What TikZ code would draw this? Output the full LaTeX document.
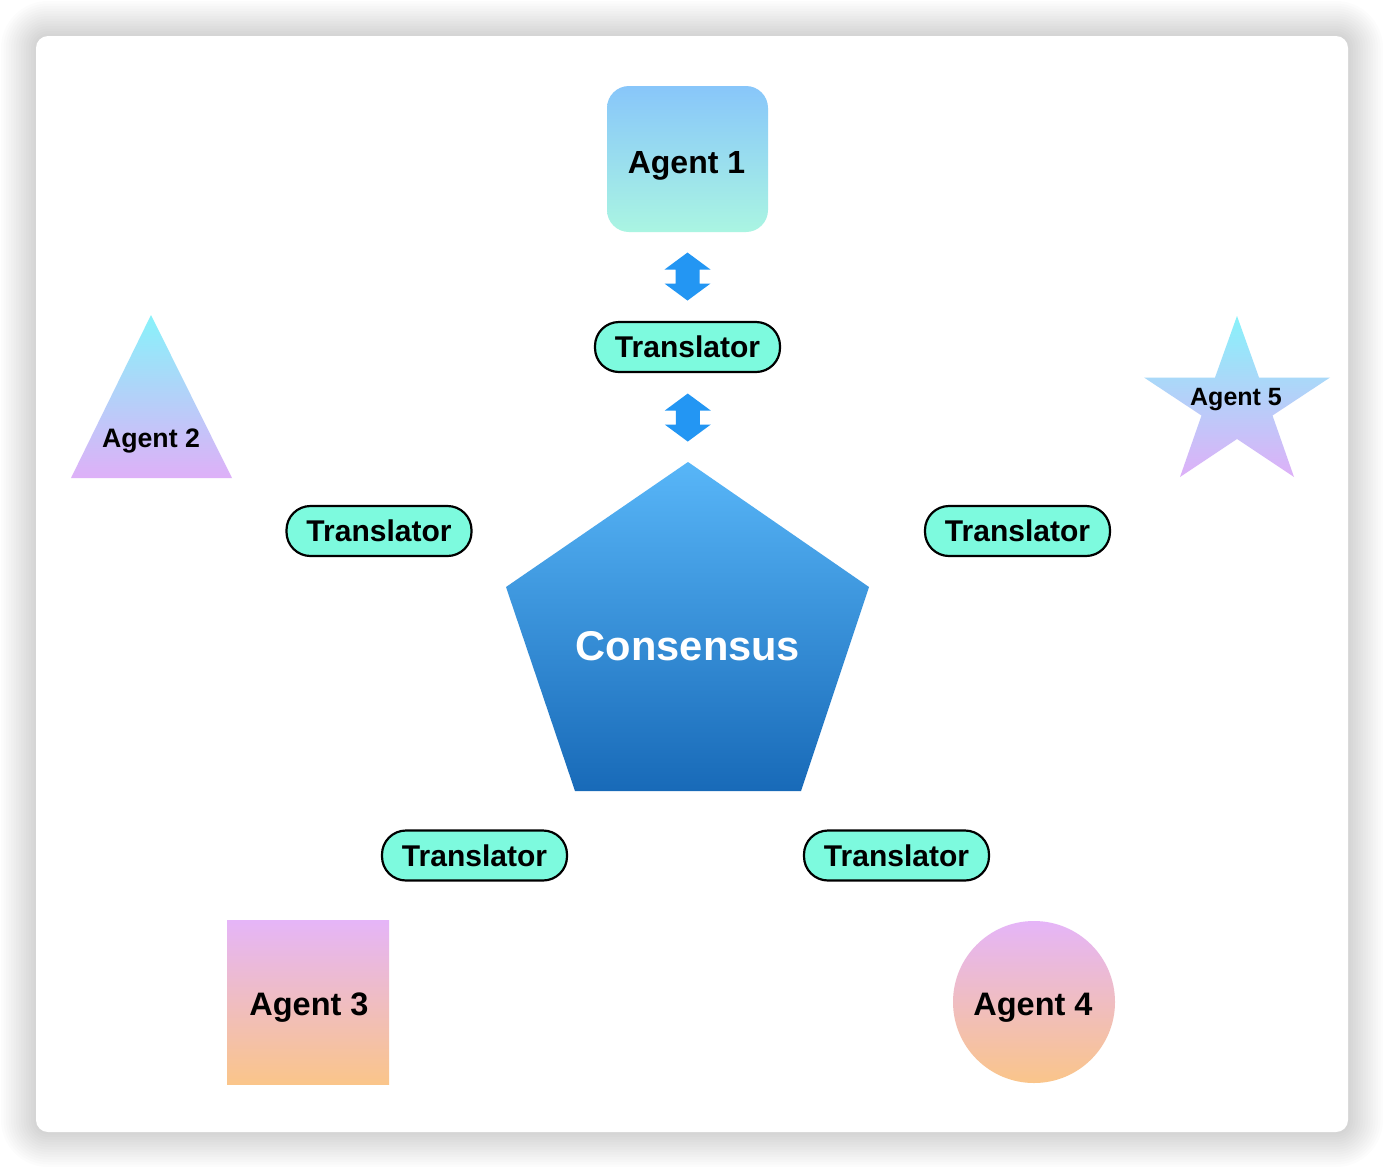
\documentclass[tikz,border=0pt]{standalone}
\usepackage{fontspec}
\setmainfont{Liberation Sans}
\definecolor{aOneTop}{RGB}{136,198,250}
\definecolor{aOneBot}{RGB}{170,245,226}
\definecolor{cyanTop}{RGB}{136,242,250}
\definecolor{lavBot}{RGB}{222,176,248}
\definecolor{pinkTop}{RGB}{229,181,248}
\definecolor{peachBot}{RGB}{250,197,138}
\definecolor{pentTop}{RGB}{88,182,248}
\definecolor{pentBot}{RGB}{24,106,184}
\definecolor{pillFill}{RGB}{125,250,222}
\definecolor{arrowBlue}{RGB}{35,150,243}
\begin{document}
\begin{tikzpicture}[x=1pt,y=-1pt,
  lbl/.style={font=\bfseries\fontsize{#1}{#1}\selectfont, text=black},
  pill/.style={draw=black, line width=2.2pt, fill=pillFill, rounded corners=24pt,
    minimum width=185pt, minimum height=50pt, inner sep=0pt,
    font=\bfseries\fontsize{30}{30}\selectfont},
  dblarr/.pic={\fill[arrowBlue] (0,-24)--(23,-7)--(12,-7)--(12,7)--(23,7)--(0,24)
      --(-23,7)--(-12,7)--(-12,-7)--(-23,-7)--cycle;}
]
\useasboundingbox (0,0) rectangle (1384,1168);
\fill[white] (0,0) rectangle (1384,1168);
% card shadow
\foreach \i in {1,...,14}{
  \pgfmathsetmacro\ex{2.5*\i}
  \pgfmathsetmacro\rr{12+2.5*\i}
  \fill[black, opacity=0.011, rounded corners=\rr pt]
    ({36-\ex},{36-\ex}) rectangle ({1348+\ex},{1132+\ex});
}
\fill[white, rounded corners=12pt] (36,36) rectangle (1348,1132);

% Agent 1
\node[rectangle, rounded corners=22pt, minimum width=161pt, minimum height=146pt,
  top color=aOneTop, bottom color=aOneBot, inner sep=0pt] (a1) at (687.5,159) {};
\node[lbl=32] (a1l) at (686.5,166) {Agent 1};

% Agent 2 triangle
\path[top color=cyanTop, bottom color=lavBot] (151,315)--(232,478)--(71,478)--cycle;
\node[lbl=26.7] (a2) at (151,441) {Agent 2};

% Agent 5 star
\begin{scope}[shift={(1237,405)}]
\path[top color=cyanTop, bottom color=lavBot]
  (0,-89)--(22,-27.5)--(93,-27.5)--(35.5,10.5)--(57,72)--(0,34)
  --(-57,72)--(-35.5,10.5)--(-93,-27.5)--(-22,-27.5)--cycle;
\end{scope}
\node[lbl=25] (a5) at (1236,400) {Agent 5};

% Consensus pentagon
\path[top color=pentTop, bottom color=pentBot]
  (688,462)--(869,587)--(801,791)--(575,791)--(506,587)--cycle;
\coordinate (ctop) at (688,462);
\node[font=\bfseries\fontsize{41.6}{41.6}\selectfont, text=white] (cons) at (688,646) {Consensus};

% Agent 3 square
\node[rectangle, minimum width=162pt, minimum height=164pt, inner sep=0pt,
  top color=pinkTop, bottom color=peachBot] (a3) at (308,1002) {};
\node[lbl=32.5] (a3l) at (309,1008) {Agent 3};

% Agent 4 circle
\node[circle, minimum size=162pt, inner sep=0pt,
  top color=pinkTop, bottom color=peachBot] (a4) at (1034,1002) {};
\node[lbl=32.5] (a4l) at (1033,1008) {Agent 4};

% Translators
\node[pill] (t1) at (687.5,347) {\raisebox{-1pt}{Translator}};
\node[pill] (t2) at (379,531) {\raisebox{-1pt}{Translator}};
\node[pill] (t5) at (1017.5,531) {\raisebox{-1pt}{Translator}};
\node[pill] (t3) at (474.5,855.5) {\raisebox{-1pt}{Translator}};
\node[pill] (t4) at (896.5,855.5) {\raisebox{-1pt}{Translator}};

% double arrows
\path (a1.south) -- (t1.north) coordinate[pos=0.5] (m1);
\path (t1.south) -- (ctop) coordinate[pos=0.5] (m2);
\pic at (m1) {dblarr};
\pic at (m2) {dblarr};
\end{tikzpicture}
\end{document}
